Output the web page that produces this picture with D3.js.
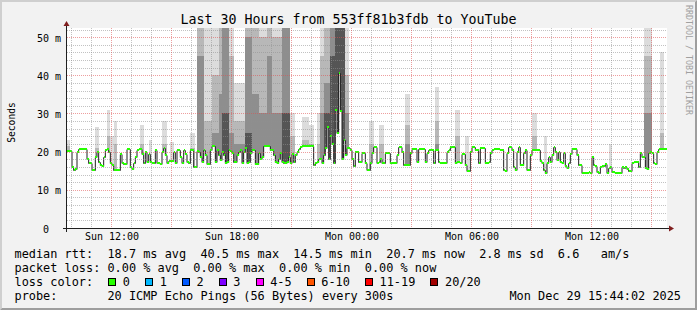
<!DOCTYPE html>
<html>
<head>
<meta charset="utf-8">
<script src="https://cdn.jsdelivr.net/npm/d3@7"></script>
<style>
body { margin: 0; background: #f2f2f2; }
svg text { font-family: "DejaVu Sans Mono", monospace; white-space: pre; }
</style>
</head>
<body>
<div id="main"></div>
<script>
const w = 697, h = 310;
const plotL = 67, plotR = 667, plotT = 28, plotB = 228;

// 5 minute steps, starting Sun Dec 28 2025 09:48
const start = new Date(2025, 11, 28, 9, 48);
const stepMs = 300 * 1000;
const spanHours = 30;
const yMax = 52.4;

// median rtt per step (ms)
const median = [
  20.2, 20.2, 20.2, 16, 15.2, 15.5, 20, 20.6, 20.6, 20.6, 20.6, 20.6, 18, 17, 17, 15.2, 15.2, 18.5, 19.8, 17.2,
  16.5, 16.3, 18.7, 20.4, 20.6, 20, 17, 16.5, 15.2, 15.1, 15.1, 15.1, 19.5, 17, 16.8, 16.8, 20.6, 20.6, 16, 15.5,
  17, 18.5, 20.5, 20.8, 20.8, 19.5, 17, 20, 17.4, 19.5, 17.2, 17, 17, 20.4, 17, 17, 16.8, 20, 20.9, 19.2,
  17, 17.5, 17.6, 17.6, 19.9, 17, 20.4, 20.4, 18.5, 17, 20.4, 19.5, 17.4, 17, 20.4, 20.4, 16.1, 16.1, 20.2, 20,
  18.7, 17.4, 20.4, 19, 16.8, 16.8, 20.4, 21.5, 21.5, 17.4, 20.4, 19, 17.8, 20, 19.2, 17, 17.2, 20.4, 20.2, 19.6,
  17.4, 17.4, 19.2, 20, 20.4, 17, 20, 20.9, 17, 17.4, 19.6, 20.4, 20.4, 16.8, 16.8, 19.6, 18, 18.7, 21.5, 21.5,
  21.5, 21.5, 20.4, 20.4, 19.2, 17.4, 17, 18, 19.6, 17.4, 17, 17, 17.4, 18.7, 17, 19.5, 17.4, 19.2, 20, 20.6,
  21.2, 21.4, 21.5, 21.5, 21.5, 21.5, 21.5, 21.4, 16.5, 17, 17.4, 18, 18.2, 17, 19, 21, 26.5, 18, 24, 22,
  17, 31, 25, 40.5, 30.7, 18, 23, 19, 21, 21, 20.4, 18, 16.2, 19.9, 19.9, 17.4, 17.4, 19.6, 19.6, 17,
  15.2, 15.2, 17, 19.7, 21.3, 21.3, 17, 17.4, 18, 17, 17, 19.7, 19.7, 19.7, 17, 17, 17, 17, 19, 21.1,
  21.1, 19.9, 16.5, 16.5, 16.5, 16.5, 19.7, 20.6, 20.6, 20.6, 17.4, 20.6, 20.6, 20.6, 20.6, 17.4, 19.7, 20.4, 20.4, 20.4,
  17, 20.4, 20.4, 17.4, 17, 17, 17, 17, 19.9, 20.4, 21.3, 21.3, 21.3, 17, 17.4, 17.4, 17, 19.4, 19.4, 16.5,
  15, 15, 19.9, 21.3, 21.3, 20.4, 20.4, 17, 20.9, 20.9, 20.9, 17, 17, 17.4, 19.6, 20.4, 20.6, 20.6, 20.6, 20.6,
  20.4, 20.4, 15.2, 15, 19.6, 21.3, 21.3, 20.4, 16, 15.2, 19.9, 21.3, 16.5, 16.5, 19.6, 20.4, 15.2, 15.2, 19.2, 20.4,
  20.4, 20.4, 20.4, 20.4, 17.6, 17, 15.2, 14.5, 17.1, 18.5, 17.4, 19.2, 21.3, 19.9, 17.8, 20, 17.4, 17, 19.6, 16.2,
  15.6, 17, 19.5, 20.6, 20.6, 20.6, 19.2, 16.5, 16.5, 14.5, 14.5, 14.5, 14.5, 14.8, 14.5, 18.7, 16.5, 16.3, 14.8, 14.5,
  16, 16.3, 16.3, 16.8, 14.5, 15.8, 16, 14.8, 14.8, 14.5, 14.5, 14.5, 14.5, 16, 15.8, 16, 15.4, 15, 15, 17,
  17.2, 17.2, 17.2, 16, 19.6, 18.7, 18.7, 15.6, 15.4, 19.6, 20, 19.6, 17, 16.8, 20, 20.6, 20.6, 20.6, 20.6, 20.6
];

// smoke: [first step, last step, outer top, mid top, inner top, core top] in ms
const smokeRuns = [
  [0, 1, 23, 21.5, 0, 0], [17, 18, 26.5, 21, 0, 0], [24, 25, 31, 24, 0, 0], [26, 27, 24, 0, 0, 0],
  [28, 29, 28, 22, 0, 0], [44, 45, 27, 22, 0, 0], [49, 50, 23, 0, 0, 0], [57, 59, 28, 22, 0, 0],
  [62, 63, 22.5, 0, 0, 0], [74, 76, 25, 21, 0, 0],
  [78, 81, 60, 60, 45, 0], [82, 86, 60, 28, 0, 0], [87, 90, 60, 40, 25, 0], [91, 92, 60, 60, 35, 0],
  [93, 96, 60, 60, 60, 30], [97, 99, 60, 45, 25, 0], [100, 106, 38, 28, 22, 0], [107, 110, 60, 60, 50, 25],
  [111, 114, 60, 60, 35, 0], [115, 128, 60, 50, 30, 0], [120, 122, 60, 60, 45, 0], [129, 133, 60, 60, 55, 30],
  [134, 136, 30, 24, 0, 0], [141, 144, 29, 23, 0, 0], [145, 147, 27, 22, 0, 0],
  [150, 151, 30, 22, 0, 0], [152, 168, 60, 45, 30, 0], [154, 157, 60, 60, 38, 30], [158, 160, 60, 60, 60, 45],
  [161, 166, 60, 60, 60, 60], [167, 168, 60, 40, 30, 0],
  [181, 183, 28, 22, 0, 0], [187, 189, 27, 22, 0, 0], [203, 205, 35, 27, 22, 0], [221, 222, 37, 28, 22, 0],
  [233, 235, 31, 24, 0, 0], [239, 240, 24, 0, 0, 0], [279, 281, 30, 24, 0, 0], [286, 287, 24, 0, 0, 0],
  [325, 326, 22, 0, 0, 0], [346, 350, 60, 45, 30, 0], [356, 357, 46, 25, 0, 0]
];

const yTicks = [0, 10, 20, 30, 40, 50];
const title = 'Last 30 Hours from 553ff81b3fdb to YouTube';
const yLabel = 'Seconds';
const watermark = 'RRDTOOL / TOBI OETIKER';
const rttStats = ['18.7 ms avg', '40.5 ms max', '14.5 ms min', '20.7 ms now', '2.8 ms sd', '6.6   am/s'];
const lossStats = ['0.00 % avg', '0.00 % max', '0.00 % min', '0.00 % now'];
const lossLabels = ['0', '1', '2', '3', '4-5', '6-10', '11-19', '20/20'];
const lossColors = ['#26ff00', '#00b8ff', '#0059ff', '#7e00ff', '#ff00ff', '#ff5500', '#ff0000', '#a10000'];
const probeText = '20 ICMP Echo Pings (56 Bytes) every 300s';
const stamp = 'Mon Dec 29 15:44:02 2025';

const svg = d3.select('#main').append('svg').attr('width', w).attr('height', h);

svg.append('rect').attr('width', w).attr('height', h).attr('fill', '#f2f2f2');
svg.append('path').attr('d', `M0,${h}L2,${h - 2}L2,2L${w - 2},2L${w},0L0,0Z`).attr('fill', '#cfcfcf');
svg.append('path').attr('d', `M2,${h - 2}L${w - 2},${h - 2}L${w - 2},2L${w},0L${w},${h}L0,${h}Z`).attr('fill', '#9e9e9e');

const end = new Date(+start + spanHours * 3600 * 1000);
const x = d3.scaleTime().domain([start, end]).range([plotL, plotR]);
const y = d3.scaleLinear().domain([0, yMax]).range([plotB, plotT]);

svg.append('rect').attr('x', plotL).attr('y', plotT).attr('width', plotR - plotL).attr('height', plotB - plotT).attr('fill', '#fff');

svg.append('clipPath').attr('id', 'plot').append('rect')
  .attr('x', plotL).attr('y', plotT).attr('width', plotR - plotL).attr('height', plotB - plotT);
const g = svg.append('g').attr('clip-path', 'url(#plot)');

const n = median.length;
const t0 = i => new Date(+start + i * stepMs);
const bands = [[], [], [], []];
smokeRuns.forEach(([a, b, ...tops]) => {
  for (let i = a; i <= b; i++) tops.forEach((t, k) => bands[k][i] = t);
});
const shades = ['#dcdcdc', '#b8b8b8', '#8e8e8e', '#555555'];
bands.forEach((band, k) => {
  const bandTop = i => y(Math.min(band[i], yMax));
  g.append('g').attr('shape-rendering', 'crispEdges')
    .selectAll('rect')
    .data(d3.range(n).filter(i => band[i] > median[i]))
    .join('rect')
    .attr('x', i => x(t0(i)))
    .attr('width', i => x(t0(i + 1)) - x(t0(i)))
    .attr('y', bandTop)
    .attr('height', i => y(median[i]) - bandTop(i))
    .attr('fill', shades[k]);
});

// grid
const gridCol = 'rgba(143,143,143,0.55)', mgridCol = 'rgba(222,79,79,0.55)';
const grid = svg.append('g').attr('shape-rendering', 'crispEdges').attr('stroke-dasharray', '1,1');
d3.range(2, yMax, 2).forEach(v => {
  grid.append('line').attr('x1', plotL).attr('x2', plotR)
    .attr('y1', Math.round(y(v)) + 0.5).attr('y2', Math.round(y(v)) + 0.5)
    .attr('stroke', v % 10 === 0 ? mgridCol : gridCol);
});
const hours = d3.timeHour.range(start, end);
hours.forEach(t => {
  const px = Math.round(x(t)) + 0.5;
  grid.append('line').attr('x1', px).attr('x2', px).attr('y1', plotT).attr('y2', plotB)
    .attr('stroke', t.getHours() % 3 === 0 ? mgridCol : gridCol);
});

// median line and loss colour
const pts = median.map((v, i) => [t0(i), v]).concat([[t0(n), median[n - 1]]]);
g.append('path')
  .attr('d', d3.line().x(d => x(d[0])).y(d => Math.round(y(d[1])) + 0.5).curve(d3.curveStepAfter)(pts))
  .attr('fill', 'none').attr('stroke', '#202020').attr('stroke-width', 1);
g.append('g').attr('shape-rendering', 'crispEdges').selectAll('rect').data(median).join('rect')
  .attr('x', (v, i) => x(t0(i)))
  .attr('width', (v, i) => x(t0(i + 1)) - x(t0(i)))
  .attr('y', v => Math.round(y(v)) - 1)
  .attr('height', 2)
  .attr('fill', lossColors[0]);

// axes
const axisCol = '#1f1f1f', arrowCol = '#801f1f';
svg.append('line').attr('x1', plotL - 4).attr('x2', plotR + 4).attr('y1', plotB + 0.5).attr('y2', plotB + 0.5)
  .attr('stroke', axisCol);
svg.append('line').attr('x1', plotL - 0.5).attr('x2', plotL - 0.5).attr('y1', plotB + 4).attr('y2', plotT - 4)
  .attr('stroke', axisCol);
svg.append('path').attr('d', `M${plotR + 2},${plotB - 2.5}L${plotR + 2},${plotB + 3.5}L${plotR + 7},${plotB + 0.5}Z`).attr('fill', arrowCol);
svg.append('path').attr('d', `M${plotL - 3.5},${plotT - 2}L${plotL + 2.5},${plotT - 2}L${plotL - 0.5},${plotT - 7}Z`).attr('fill', arrowCol);

// y labels
svg.append('g').selectAll('text').data(yTicks).join('text')
  .attr('x', plotL - 6).attr('y', v => y(v) + 4.6)
  .attr('text-anchor', 'end').attr('font-size', 10).attr('fill', '#000')
  .text(v => v === 0 ? '0  ' : v + ' m');

// x labels
const fmt = d3.timeFormat('%a %H:%M');
svg.append('g').selectAll('text').data(hours.filter(t => t.getHours() % 6 === 0)).join('text')
  .attr('x', t => x(t) + 1).attr('y', plotB + 12)
  .attr('text-anchor', 'middle').attr('font-size', 10).attr('fill', '#000')
  .text(fmt);

svg.append('text').attr('x', w / 2).attr('y', 23.5).attr('text-anchor', 'middle')
  .attr('font-size', 13.3).attr('fill', '#000').text(title);

svg.append('text').attr('transform', 'translate(14.5,122.5) rotate(-90)')
  .attr('text-anchor', 'middle').attr('font-size', 9.6).attr('fill', '#000').text(yLabel);

svg.append('text').attr('transform', 'translate(685.5,5) rotate(90)')
  .attr('font-size', 8.3).attr('fill', '#a0a0a0').text(watermark);

// legend
const lf = 11.88, cw = lf * 0.602, lx = 14.5, row = i => 258.2 + 13.8 * i;
const leg = svg.append('g').attr('font-size', lf).attr('fill', '#000');
leg.append('text').attr('x', lx).attr('y', row(0)).text('median rtt:  ' + rttStats.join('  '));
leg.append('text').attr('x', lx).attr('y', row(1)).text('packet loss: ' + lossStats.join('  '));
leg.append('text').attr('x', lx).attr('y', row(2)).text('loss color:');
let bx = 108.3;
lossLabels.forEach((lab, i) => {
  leg.append('rect').attr('x', Math.round(bx) + 0.5).attr('y', 278.5).attr('width', 7).attr('height', 7)
    .attr('fill', lossColors[i]).attr('stroke', '#000');
  leg.append('text').attr('x', bx + 15 - 0.5).attr('y', row(2)).text(lab);
  bx += (lab.length + 4.15) * cw;
});
leg.append('text').attr('x', lx).attr('y', row(3)).text('probe:       ' + probeText);
leg.append('text').attr('x', 681).attr('y', row(3)).attr('text-anchor', 'end').text(stamp);
</script>
</body>
</html>
